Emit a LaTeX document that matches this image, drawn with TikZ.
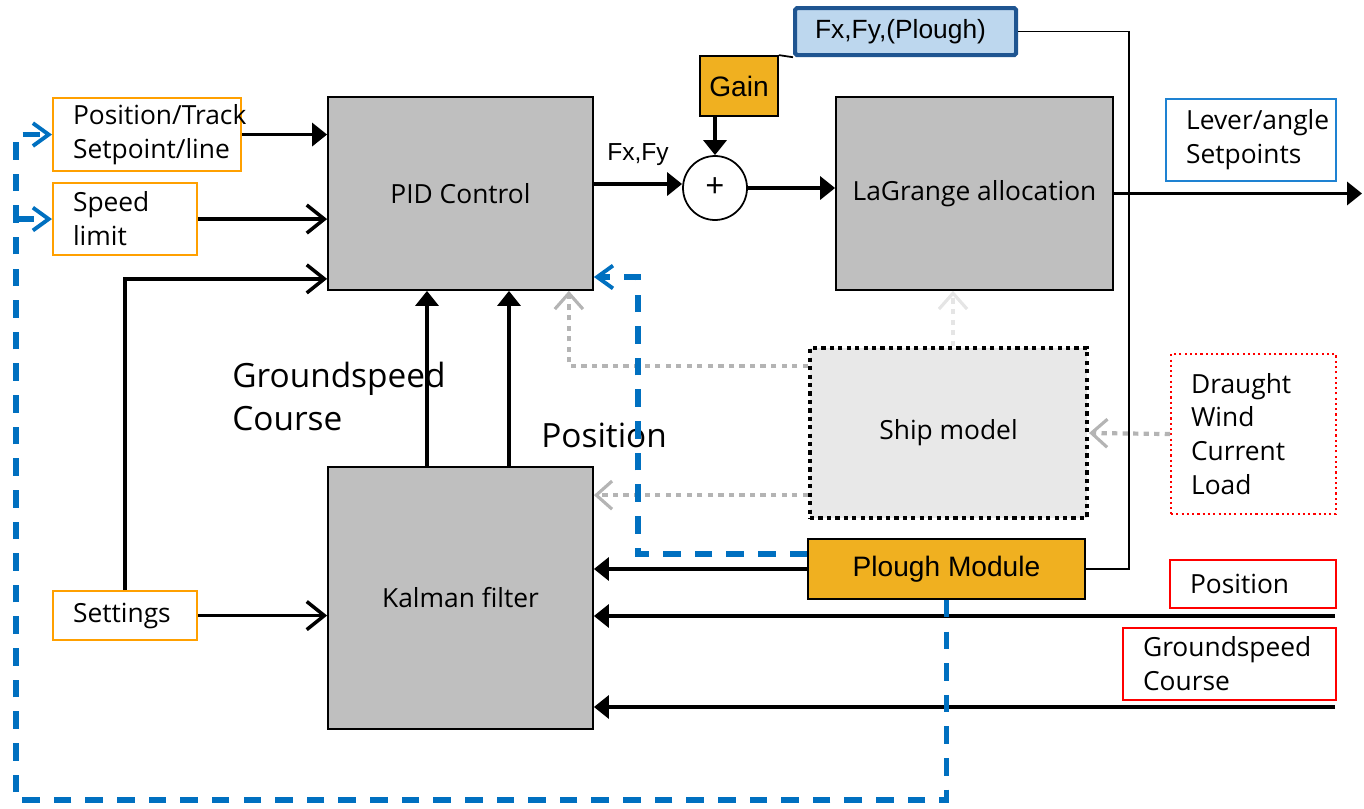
\documentclass[tikz,border=0pt]{standalone}
\usepackage{fontspec}
\setmainfont{Open Sans}
\newfontfamily\arialfont{Liberation Sans}
\usetikzlibrary{arrows.meta,positioning,calc}
\newlength{\pxu}
\setlength{\pxu}{0.02cm}
\definecolor{boxgray}{RGB}{191,191,191}
\definecolor{shipgray}{RGB}{232,232,232}
\definecolor{ploughorange}{RGB}{240,176,32}
\definecolor{inorange}{RGB}{255,160,0}
\definecolor{outblue}{RGB}{30,130,210}
\definecolor{fxplight}{RGB}{189,215,238}
\definecolor{fxpblue}{RGB}{31,85,145}
\definecolor{fbblue}{RGB}{0,112,192}
\definecolor{dotgray}{RGB}{180,180,180}
\tikzset{
    blksty/.style={draw=black, fill=boxgray, rectangle, line width=1pt, inner sep=0pt},
    shipsty/.style={draw=black, fill=shipgray, rectangle, line width=2.4pt, dash pattern=on 2.4pt off 2.4pt, inner sep=0pt},
    ploughsty/.style={draw=black, fill=ploughorange, rectangle, line width=1pt, inner sep=0pt, font=\arialfont\fontsize{16}{19}\selectfont},
    padsty/.style={rectangle, align=left, inner xsep=20\pxu, inner ysep=0pt, anchor=north west},
    insty/.style={padsty, draw=inorange, fill=white, line width=1.2pt},
    outsty/.style={padsty, draw=outblue, line width=1.2pt},
    redsty/.style={padsty, draw=red, line width=1.2pt},
    envsty/.style={padsty, draw=red, line width=1.2pt, dash pattern=on 1.2pt off 1.8pt},
    fxpsty/.style={padsty, draw=fxpblue, fill=fxplight, line width=2.4pt, rounded corners=1pt, font=\arialfont\fontsize{15}{18}\selectfont},
    sumsty/.style={circle, draw=black, fill=white, line width=1pt, minimum size=64\pxu, inner sep=0pt, font=\fontsize{19}{22}\selectfont},
    biglblsty/.style={font=\fontsize{19}{24.4}\selectfont, align=left, inner sep=0pt},
    arrsty/.style={line width=2pt, -{Triangle[length=8.5pt,width=13pt]}},
    barbsty/.style={line width=2pt, -{Straight Barb[length=10pt,width=16pt]}},
    dotarrsty/.style={draw=dotgray, line width=2.4pt, dash pattern=on 3pt off 3pt, -{Straight Barb[length=9pt,width=16pt,line width=1.8pt]}},
    fbsty/.style={draw=fbblue, line width=3.2pt, dash pattern=on 10pt off 8pt, -{Straight Barb[length=9pt,width=13pt,line width=2.2pt]}},
    thinsty/.style={line width=1pt},
}

\begin{document}
\begin{tikzpicture}[x=0.02cm, y=-0.02cm, >=latex, font=\fontsize{15}{19.3}\selectfont]
\useasboundingbox (0,0) rectangle (1364,808);

% main blocks
\node[blksty, minimum width=265\pxu, minimum height=193\pxu] (pid) at (460.5,193.5) {PID Control};
\node[blksty, minimum width=277\pxu, minimum height=193\pxu] (lag) at (974.5,193.5) {LaGrange allocation};
\node[blksty, minimum width=265\pxu, minimum height=262\pxu] (kal) at (460.5,598) {Kalman filter};
\node[shipsty, minimum width=277\pxu, minimum height=170\pxu] (ship) at (948.5,433) {Ship model};
\node[ploughsty, minimum width=277\pxu, minimum height=60\pxu] (plough) at (946.5,569) {Plough Module};
\node[ploughsty, minimum width=78\pxu, minimum height=60\pxu] (gain) at (739,86) {Gain};
\node[fxpsty, text width=181\pxu, minimum height=47\pxu] (fxp) at (793,6) {Fx,Fy,(Plough)};
\node[sumsty] (sum) at (715,188) {+};

% inputs and outputs
\node[insty, text width=148\pxu, minimum height=73\pxu] (postrack) at (52,97) {Position/Track\\Setpoint/line};
\node[insty, text width=104\pxu, minimum height=72\pxu] (speed) at (52,182) {Speed\\limit};
\node[insty, text width=104\pxu, minimum height=49\pxu] (settings) at (52,590) {Settings};
\node[outsty, text width=130\pxu, minimum height=82\pxu] (lever) at (1165,98) {Lever/angle\\Setpoints};
\node[envsty, text width=125\pxu, minimum height=160\pxu] (env) at (1170,353) {Draught\\Wind\\Current\\Load};
\node[redsty, text width=126\pxu, minimum height=48\pxu] (posred) at (1169,559) {Position};
\node[redsty, text width=173\pxu, minimum height=72\pxu] (gsred) at (1122,627) {Groundspeed\\Course};

% free labels
\node[biglblsty, anchor=north west] (gslbl) at (232,362) {Groundspeed\\Course};
\node[biglblsty, anchor=base west] (poslbl) at (541,447) {Position};

\coordinate (lagout) at (1362,196);
\coordinate (posin) at (1335,616);
\coordinate (gsin) at (1335,707);
\coordinate (fbbot) at (16,800);
\coordinate (fbturn) at (638,277);

% black connectors
\draw[arrsty] (postrack.east) -- (postrack.east -| pid.west);
\draw[barbsty] (speed.east) -- (speed.east -| pid.west);
\draw[barbsty] (settings.north) |- ([yshift=12\pxu]pid.south west);
\draw[barbsty] (settings.east) -- (settings.east -| kal.west);
\draw[arrsty] ([xshift=-33.5\pxu]kal.north) -- ([xshift=-33.5\pxu]pid.south);
\draw[arrsty] ([xshift=48.5\pxu]kal.north) -- ([xshift=48.5\pxu]pid.south);
\draw[arrsty] ([yshift=4\pxu]sum.west -| pid.east) -- ([yshift=4\pxu]sum.west)
    node[midway, above=6pt, font=\arialfont\fontsize{14}{17}\selectfont] (lblfxfy) {Fx,Fy};
\draw[arrsty] (sum.north |- gain.south) -- (sum.north);
\draw[thinsty] (gain.north east) -- (fxp.south west);
\draw[arrsty] (sum.east) -- (sum.east -| lag.west);
\draw[arrsty] (lag.east) -- (lag.east -| lagout);
\draw[thinsty] (fxp.east) -| ([xshift=43\pxu]plough.east) -- (plough.east);
\draw[arrsty] (plough.west) -- (plough.west -| kal.east);
\draw[arrsty] (posin) -- (posin -| kal.east);
\draw[arrsty] (gsin) -- (gsin -| kal.east);

% ship model links
\draw[dotarrsty] ([yshift=-20\pxu]ship.north west) -| ([xshift=-25\pxu]pid.south east);
\draw[dotarrsty] ([yshift=25\pxu]ship.south west) -- ([yshift=25\pxu]ship.south west -| kal.east);
\draw[dotarrsty, draw=gray!20] ([xshift=4.5\pxu]ship.north) -- ([xshift=4.5\pxu]ship.north |- lag.south);
\draw[dotarrsty] (env.west) -- (ship.east);

% plough feedback
\draw[fbsty] (plough.south) |- (fbbot) |- (postrack.west);
\draw[fbsty] (fbbot |- speed.west) -- (speed.west);
\draw[fbsty] ([yshift=-16\pxu]plough.north west) -| (fbturn) -- (fbturn -| pid.east);
\end{tikzpicture}
\end{document}
